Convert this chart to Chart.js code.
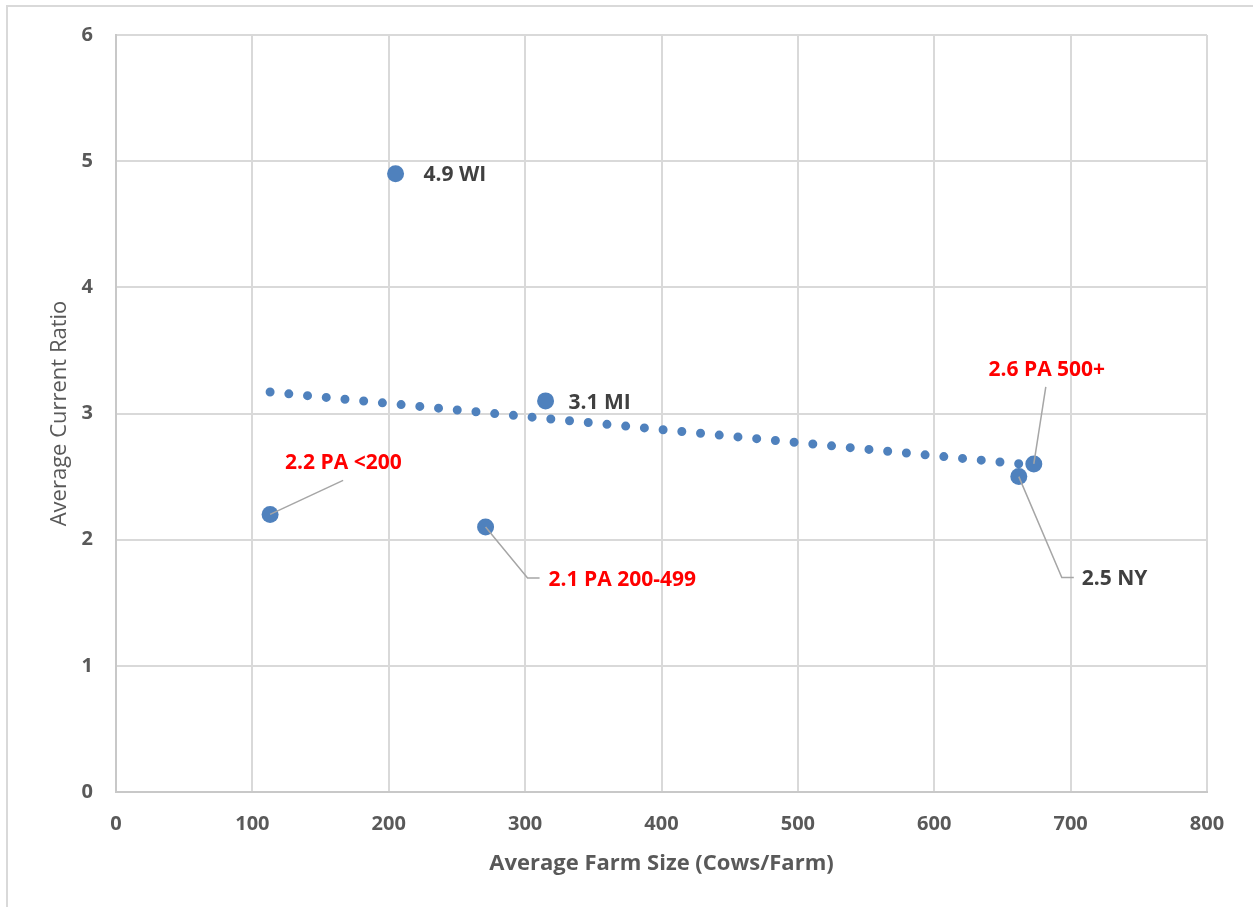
<!DOCTYPE html>
<html>
<head>
<meta charset="utf-8">
<script src="https://cdn.jsdelivr.net/npm/chart.js@4/dist/chart.umd.min.js"></script>
<style>
  body { margin: 0; background: #fff; overflow: hidden; }
  .marco { position: absolute; left: 6px; top: 5px; width: 1400px; height: 1100px;
           border-left: 2px solid #d9d9d9; border-top: 2px solid #d9d9d9; }
  canvas { position: absolute; left: 0; top: 0; }
</style>
</head>
<body>
<div class="marco"></div>
<canvas id="grafico" width="1253" height="907"></canvas>
<script>
// Datos del gráfico
const farmSize = [113, 205, 271, 315, 662, 673];
const currentRatio = [2.2, 4.9, 2.1, 3.1, 2.5, 2.6];
const pointLabels = ['2.2 PA <200', '4.9 WI', '2.1 PA 200-499', '3.1 MI', '2.5 NY', '2.6 PA 500+'];

// Línea de tendencia (extremos)
const trendX = [113, 673];
const trendY = [3.17, 2.59];

// Ejes
const xMin = 0, xMax = 800, xStep = 100;
const yMin = 0, yMax = 6, yStep = 1;

const azul = '#4f81bd';
const gris = '#595959';
const fuente = '"Open Sans", "Noto Sans", sans-serif';

// Posición de cada etiqueta respecto a su punto (px) y líneas guía
const labelPlacement = [
  { dx: 15, dy: -51, color: '#ff0000', leader: [[73, -34]] },
  { dx: 28, dy: 1, color: '#404040' },
  { dx: 63, dy: 53, color: '#ff0000', leader: [[42, 51], [54, 51]] },
  { dx: 23, dy: 2, color: '#404040' },
  { dx: 63, dy: 102, color: '#404040', leader: [[43, 101], [55, 101]] },
  { dx: 13, dy: -94, color: '#ff0000', align: 'center', leader: [[12, -77]] }
];

// Plugin para dibujar etiquetas y líneas guía
const etiquetas = {
  id: 'etiquetas',
  afterDatasetsDraw(chart) {
    const ctx = chart.ctx;
    const meta = chart.getDatasetMeta(0);
    ctx.save();
    meta.data.forEach((pt, i) => {
      const st = labelPlacement[i];
      const x = pt.x, y = pt.y;
      if (st.leader) {
        ctx.beginPath();
        ctx.moveTo(x, y);
        st.leader.forEach(([dx, dy]) => ctx.lineTo(x + dx, y + dy));
        ctx.strokeStyle = '#a6a6a6';
        ctx.lineWidth = 1.5;
        ctx.stroke();
      }
      ctx.font = 'bold 21px ' + fuente;
      ctx.fillStyle = st.color;
      ctx.textBaseline = 'middle';
      ctx.textAlign = st.align || 'left';
      ctx.fillText(pointLabels[i], x + st.dx, y + st.dy);
    });
    ctx.restore();
  }
};

const ctx = document.getElementById('grafico').getContext('2d');
const chart = new Chart(ctx, {
  type: 'scatter',
  data: {
    datasets: [
      {
        label: 'Granjas',
        data: farmSize.map((x, i) => ({ x: x, y: currentRatio[i] })),
        backgroundColor: azul,
        borderColor: azul,
        pointRadius: 8.5,
        pointBorderWidth: 0,
        order: 1
      },
      {
        label: 'Tendencia',
        data: trendX.map((x, i) => ({ x: x, y: trendY[i] })),
        showLine: true,
        borderColor: azul,
        borderWidth: 9,
        borderDash: [0, 18.8],
        borderCapStyle: 'round',
        pointRadius: 0,
        order: 2
      }
    ]
  },
  options: {
    responsive: false,
    animation: false,
    devicePixelRatio: 1,
    layout: { padding: { top: 35, right: 46, left: 0, bottom: 0 } },
    plugins: { legend: { display: false }, tooltip: { enabled: false } },
    scales: {
      x: {
        type: 'linear',
        min: xMin, max: xMax,
        ticks: { stepSize: xStep, color: gris, padding: 20, font: { family: fuente, size: 20, weight: 'bold' } },
        grid: { color: '#d9d9d9', lineWidth: 2, drawTicks: false },
        border: { color: '#c8c8c8', width: 2 },
        title: {
          display: true, text: 'Average Farm Size (Cows/Farm)', color: gris,
          font: { family: fuente, size: 22, weight: 'bold' }, padding: { top: 0, bottom: 30 }
        },
        afterFit(scale) { scale.height = 115; }
      },
      y: {
        type: 'linear',
        min: yMin, max: yMax,
        ticks: { stepSize: yStep, color: gris, padding: 23, font: { family: fuente, size: 20, weight: 'bold' } },
        grid: { color: '#d9d9d9', lineWidth: 2, drawTicks: false },
        border: { color: '#c8c8c8', width: 2 },
        title: {
          display: true, text: 'Average Current Ratio', color: gris,
          font: { family: fuente, size: 22, weight: 'normal' }, padding: { top: 47, bottom: 0 }
        },
        afterFit(scale) { scale.width = 116; }
      }
    }
  },
  plugins: [etiquetas]
});
</script>
</body>
</html>
